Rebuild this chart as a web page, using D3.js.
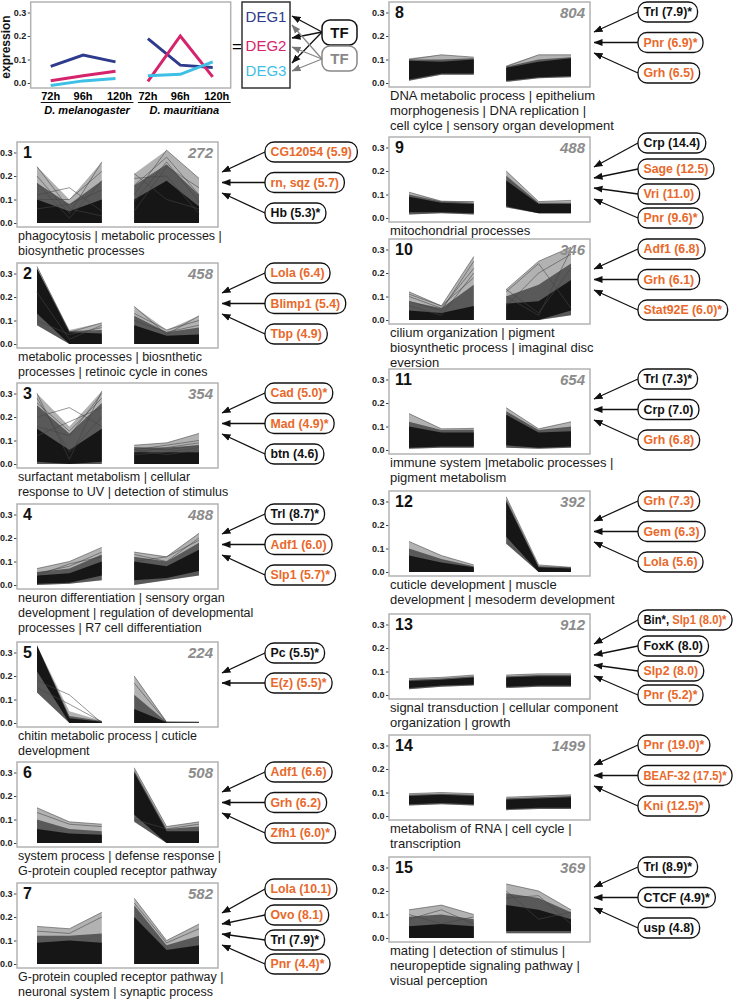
<!DOCTYPE html>
<html>
<head>
<meta charset="utf-8">
<script src="https://cdn.jsdelivr.net/npm/d3@7"></script>
<style>
  body { margin: 0; background: #fff; }
  svg { display: block; font-family: "Liberation Sans", Arial, sans-serif; }
</style>
</head>
<body>
<div id="chart"></div>
<script>
// ---- data ----
const timepoints = ["72h", "96h", "120h"];
const species = ["D. melanogaster", "D. mauritiana"];
const sampleKeys = ["mel72", "mel96", "mel120", "mau72", "mau96", "mau120"];

const degNames = ["DEG1", "DEG2", "DEG3"];
const degValues = [
  [0.071, 0.119, 0.090, 0.189, 0.076, 0.066],
  [0.010, 0.031, 0.050, 0.007, 0.200, 0.026],
  [-0.011, 0.009, 0.019, 0.031, 0.037, 0.090]
];

const clusterIds = [1, 2, 3, 4, 5, 6, 7, 8, 9, 10, 11, 12, 13, 14, 15];
const clusterSizes = [272, 458, 354, 488, 224, 508, 582, 804, 488, 346, 654, 392, 912, 1499, 369];
const clusterTerms = [
  ["phagocytosis | metabolic processes |", "biosynthetic processes"],
  ["metabolic processes | biosnthetic", "processes | retinoic cycle in cones"],
  ["surfactant metabolism | cellular", "response to UV | detection of stimulus"],
  ["neuron differentiation | sensory organ", "development | regulation of developmental", "processes | R7 cell differentiation"],
  ["chitin metabolic process | cuticle", "development"],
  ["system process | defense response |", "G-protein coupled receptor pathway"],
  ["G-protein coupled receptor pathway |", "neuronal system | synaptic process"],
  ["DNA metabolic process | epithelium", "morphogenesis | DNA replication |", "cell cylce | sensory organ development"],
  ["mitochondrial processes"],
  ["cilium organization | pigment", "biosynthetic process | imaginal disc", "eversion"],
  ["immune system |metabolic processes |", "pigment metabolism"],
  ["cuticle development | muscle", "development | mesoderm development"],
  ["signal transduction | cellular component", "organization | growth"],
  ["metabolism of RNA | cell cycle |", "transcription"],
  ["mating | detection of stimulus |", "neuropeptide signaling pathway |", "visual perception"]
];
// each TF label: list of [text, highlighted]
const clusterTFs = [
  [[["CG12054 (5.9)", 1]], [["rn, sqz (5.7)", 1]], [["Hb (5.3)*", 0]]],
  [[["Lola (6.4)", 1]], [["Blimp1 (5.4)", 1]], [["Tbp (4.9)", 1]]],
  [[["Cad (5.0)*", 1]], [["Mad (4.9)*", 1]], [["btn (4.6)", 0]]],
  [[["Trl (8.7)*", 0]], [["Adf1 (6.0)", 1]], [["Slp1 (5.7)*", 1]]],
  [[["Pc (5.5)*", 0]], [["E(z) (5.5)*", 1]]],
  [[["Adf1 (6.6)", 1]], [["Grh (6.2)", 1]], [["Zfh1 (6.0)*", 1]]],
  [[["Lola (10.1)", 1]], [["Ovo (8.1)", 1]], [["Trl (7.9)*", 0]], [["Pnr (4.4)*", 1]]],
  [[["Trl (7.9)*", 0]], [["Pnr (6.9)*", 1]], [["Grh (6.5)", 1]]],
  [[["Crp (14.4)", 0]], [["Sage (12.5)", 1]], [["Vri (11.0)", 1]], [["Pnr (9.6)*", 1]]],
  [[["Adf1 (6.8)", 1]], [["Grh (6.1)", 1]], [["Stat92E (6.0)*", 1]]],
  [[["Trl (7.3)*", 0]], [["Crp (7.0)", 0]], [["Grh (6.8)", 1]]],
  [[["Grh (7.3)", 1]], [["Gem (6.3)", 1]], [["Lola (5.6)", 1]]],
  [[["Bin*, ", 0], ["Slp1 (8.0)*", 1]], [["FoxK (8.0)", 0]], [["Slp2 (8.0)", 1]], [["Pnr (5.2)*", 1]]],
  [[["Pnr (19.0)*", 1]], [["BEAF-32 (17.5)*", 1]], [["Kni (12.5)*", 1]]],
  [[["Trl (8.9)*", 0]], [["CTCF (4.9)*", 0]], [["usp (4.8)", 0]]]
];

// expression envelopes of each cluster (mel72..mel120, mau72..mau120)
const profileLow = [
  [0, 0, 0, 0, 0, 0],
  [0.08, 0, 0, 0, 0, 0],
  [0, 0, 0, 0, 0, 0],
  [0, 0.005, 0.02, 0, 0.02, 0.04],
  [0.13, 0, 0, 0, 0, 0],
  [0, 0, 0, 0.09, 0, 0],
  [0, 0, 0, 0, 0, 0],
  [0.01, 0.035, 0.035, 0.005, 0.02, 0.025],
  [0.015, 0.02, 0.015, 0.045, 0.02, 0.02],
  [0, 0, 0, 0, 0, 0.02],
  [0.005, 0.01, 0.01, 0.01, 0.005, 0.01],
  [0, 0, 0, 0.12, 0, 0],
  [0.025, 0.035, 0.04, 0.03, 0.035, 0.035],
  [0.045, 0.05, 0.045, 0.025, 0.03, 0.03],
  [0, 0, 0, 0.02, 0.02, 0.02]
];
const profileCoreLow = [
  [0, 0, 0, 0, 0, 0],
  [0.13, 0, 0, 0, 0, 0],
  [0.01, 0, 0.01, 0, 0, 0],
  [0.005, 0.01, 0.04, 0.02, 0.03, 0.06],
  [0.22, 0, 0, 0, 0, 0],
  [0, 0, 0, 0.12, 0, 0],
  [0, 0, 0, 0, 0, 0],
  [0.015, 0.04, 0.04, 0.01, 0.025, 0.03],
  [0.025, 0.025, 0.02, 0.05, 0.02, 0.02],
  [0, 0, 0, 0, 0, 0.04],
  [0.01, 0.015, 0.015, 0.02, 0.01, 0.015],
  [0, 0, 0, 0.15, 0, 0],
  [0.03, 0.04, 0.045, 0.035, 0.04, 0.04],
  [0.05, 0.055, 0.05, 0.03, 0.035, 0.035],
  [0, 0, 0, 0.03, 0.03, 0.03]
];
const profileCoreHigh = [
  [0.10, 0.05, 0.10, 0.10, 0.18, 0.07],
  [0.32, 0.05, 0.045, 0.08, 0.035, 0.04],
  [0.15, 0.06, 0.15, 0.05, 0.05, 0.05],
  [0.04, 0.05, 0.10, 0.10, 0.08, 0.15],
  [0.33, 0.02, 0.005, 0.06, 0.003, 0.003],
  [0.06, 0.04, 0.035, 0.30, 0.05, 0.05],
  [0.09, 0.10, 0.09, 0.20, 0.06, 0.08],
  [0.095, 0.09, 0.10, 0.065, 0.09, 0.105],
  [0.09, 0.065, 0.06, 0.16, 0.06, 0.06],
  [0.04, 0.03, 0.06, 0.07, 0.08, 0.17],
  [0.10, 0.075, 0.075, 0.15, 0.075, 0.08],
  [0.07, 0.04, 0.02, 0.30, 0.02, 0.015],
  [0.06, 0.065, 0.075, 0.075, 0.08, 0.08],
  [0.085, 0.09, 0.085, 0.07, 0.075, 0.08],
  [0.05, 0.06, 0.05, 0.14, 0.12, 0.08]
];
const profileMidHigh = [
  [0.17, 0.08, 0.18, 0.16, 0.25, 0.12],
  [0.32, 0.055, 0.06, 0.12, 0.05, 0.07],
  [0.25, 0.13, 0.26, 0.07, 0.07, 0.08],
  [0.055, 0.07, 0.13, 0.12, 0.10, 0.18],
  [0.33, 0.03, 0.008, 0.12, 0.004, 0.004],
  [0.10, 0.06, 0.05, 0.31, 0.06, 0.07],
  [0.12, 0.12, 0.13, 0.25, 0.08, 0.12],
  [0.10, 0.10, 0.105, 0.07, 0.10, 0.11],
  [0.10, 0.07, 0.065, 0.18, 0.065, 0.065],
  [0.08, 0.05, 0.15, 0.10, 0.15, 0.24],
  [0.12, 0.085, 0.085, 0.165, 0.085, 0.10],
  [0.10, 0.055, 0.025, 0.31, 0.025, 0.02],
  [0.065, 0.07, 0.08, 0.08, 0.085, 0.085],
  [0.09, 0.095, 0.09, 0.075, 0.08, 0.085],
  [0.09, 0.10, 0.08, 0.19, 0.17, 0.11]
];
const profileHigh = [
  [0.24, 0.10, 0.26, 0.21, 0.31, 0.19],
  [0.33, 0.06, 0.09, 0.16, 0.06, 0.12],
  [0.30, 0.16, 0.31, 0.08, 0.09, 0.13],
  [0.07, 0.10, 0.16, 0.14, 0.12, 0.22],
  [0.33, 0.05, 0.01, 0.20, 0.006, 0.006],
  [0.15, 0.09, 0.08, 0.32, 0.07, 0.09],
  [0.16, 0.15, 0.22, 0.28, 0.10, 0.17],
  [0.105, 0.12, 0.11, 0.075, 0.12, 0.12],
  [0.11, 0.075, 0.07, 0.20, 0.07, 0.075],
  [0.12, 0.06, 0.27, 0.13, 0.25, 0.31],
  [0.155, 0.09, 0.095, 0.18, 0.09, 0.12],
  [0.13, 0.07, 0.03, 0.32, 0.03, 0.02],
  [0.07, 0.075, 0.085, 0.085, 0.09, 0.09],
  [0.095, 0.10, 0.095, 0.08, 0.085, 0.09],
  [0.12, 0.14, 0.10, 0.23, 0.20, 0.12]
];
// individual gene profiles that stand out of each bundle
const profileLines = [
  [[0.24, 0.06, 0.03, 0.21, 0.10, 0.06], [0.12, 0.15, 0.05, 0.12, 0.31, 0.19], [0.20, 0.04, 0.26, 0.16, 0.28, 0.12],
   [0.10, 0.10, 0.22, 0.05, 0.24, 0.15], [0.17, 0.02, 0.18, 0.19, 0.20, 0.04], [0.06, 0.08, 0.14, 0.09, 0.26, 0.09]],
  [[0.33, 0.05, 0.09, 0.16, 0.04, 0.12], [0.10, 0.04, 0.07, 0.13, 0.06, 0.10], [0.22, 0.02, 0.08, 0.10, 0.05, 0.08]],
  [[0.30, 0.02, 0.31, 0.08, 0.09, 0.13], [0.20, 0.24, 0.16, 0.06, 0.08, 0.10], [0.26, 0.14, 0.28, 0.07, 0.06, 0.08],
   [0.12, 0.18, 0.24, 0.05, 0.07, 0.09], [0.28, 0.05, 0.20, 0.04, 0.05, 0.07], [0.16, 0.12, 0.30, 0.06, 0.04, 0.06]],
  [[0.07, 0.10, 0.16, 0.14, 0.12, 0.22], [0.05, 0.08, 0.14, 0.13, 0.10, 0.20], [0.04, 0.09, 0.12, 0.10, 0.12, 0.19]],
  [[0.18, 0.12, 0.0, 0.20, 0.004, 0.003], [0.15, 0.08, 0.005, 0.17, 0.003, 0.002]],
  [[0.15, 0.09, 0.08, 0.32, 0.07, 0.09], [0.13, 0.08, 0.07, 0.10, 0.06, 0.08]],
  [[0.16, 0.15, 0.22, 0.28, 0.10, 0.17], [0.14, 0.13, 0.20, 0.26, 0.09, 0.15]],
  [[0.10, 0.12, 0.11, 0.07, 0.12, 0.12]],
  [[0.11, 0.07, 0.07, 0.20, 0.07, 0.075]],
  [[0.12, 0.06, 0.27, 0.13, 0.25, 0.31], [0.10, 0.05, 0.22, 0.12, 0.24, 0.05], [0.08, 0.04, 0.25, 0.10, 0.02, 0.30],
   [0.11, 0.06, 0.18, 0.06, 0.20, 0.28], [0.06, 0.02, 0.20, 0.13, 0.03, 0.22]],
  [[0.155, 0.09, 0.09, 0.18, 0.09, 0.12]],
  [[0.13, 0.07, 0.03, 0.32, 0.03, 0.02]],
  [[0.07, 0.075, 0.085, 0.085, 0.09, 0.09]],
  [[0.095, 0.10, 0.095, 0.08, 0.085, 0.09]],
  [[0.12, 0.14, 0.10, 0.23, 0.20, 0.12], [0.10, 0.06, 0.09, 0.20, 0.08, 0.11], [0.08, 0.12, 0.06, 0.17, 0.18, 0.06]]
];

// ---- layout ----
const width = 736;
const height = 999;
const boxW = 201;
const boxH = 85;
const colX = [17, 389];
const colTops = [[142, 263, 383, 504, 642, 762, 883], [2, 137, 239, 369, 491, 614, 735, 857]];
const labelX = [265, 638];
const labelMaxRight = 732;
const termSize = [12.5, 13];
const orange = "#e8692b";
const degColors = ["#2e3b8c", "#d6246c", "#3dbfe6"];
// label / arrow-target offsets from panel top, by number of TFs
const labelRows = {
  2: { label: [11, 41], target: [31, 41] },
  3: { label: [10, 40.5, 71], target: [30, 40.5, 51] },
  4: { label: [6, 32, 57, 81], target: [30, 41, 51, 62] }
};

const svg = d3.select("#chart").append("svg")
  .attr("width", width)
  .attr("height", height)
  .attr("viewBox", [0, 0, width, height]);

const defs = svg.append("defs");
function addMarker(id, color) {
  defs.append("marker")
    .attr("id", id)
    .attr("viewBox", "0 -4 9 8")
    .attr("refX", 8.5)
    .attr("refY", 0)
    .attr("markerUnits", "userSpaceOnUse")
    .attr("markerWidth", 9)
    .attr("markerHeight", 8)
    .attr("orient", "auto")
    .append("path")
    .attr("d", "M0,-3.5L9,0L0,3.5Z")
    .attr("fill", color);
}
addMarker("arrBlack", "#111");
addMarker("arrGray", "#777");

function makeScales(left, top) {
  const x = d3.scalePoint().domain(sampleKeys).range([left + 20, left + 182]);
  const y = d3.scaleLinear().domain([0, 0.3]).range([top + 81, top + 10.5]);
  return { x, y };
}

function drawYAxis(y, left) {
  svg.append("g")
    .attr("transform", `translate(${left},0)`)
    .call(d3.axisLeft(y).tickValues([0, 0.1, 0.2, 0.3]).tickFormat(d3.format(".1f")).tickSize(3).tickPadding(1.5))
    .call((g) => g.select(".domain").remove())
    .call((g) => g.selectAll("line").attr("stroke", "#444"))
    .call((g) => g.selectAll("text").attr("font-size", 9).attr("font-weight", "bold").attr("fill", "#222")
      .attr("font-family", "'Liberation Sans', Arial, sans-serif"));
}

// ---- legend panel at top left ----
{
  const left = 30.7, top = 2;
  const { x, y } = makeScales(left, top);
  drawYAxis(y, left);
  svg.append("rect").attr("x", left).attr("y", top).attr("width", 200).attr("height", 86)
    .attr("fill", "none").attr("stroke", "#b3b3b3").attr("stroke-width", 1.5);
  svg.append("text")
    .attr("transform", `translate(10,${top + 45}) rotate(-90)`)
    .attr("text-anchor", "middle")
    .attr("font-size", 12).attr("font-weight", "bold").attr("fill", "#111")
    .text("expression");
  const line = d3.line().x((d) => x(d.k)).y((d) => y(d.v));
  degValues.forEach((vals, j) => {
    [0, 1].forEach((b) => {
      const pts = [0, 1, 2].map((i) => ({ k: sampleKeys[3 * b + i], v: vals[3 * b + i] }));
      svg.append("path").datum(pts).attr("d", line)
        .attr("fill", "none").attr("stroke", degColors[j]).attr("stroke-width", 3);
    });
  });
  sampleKeys.forEach((k, i) => {
    svg.append("text").attr("x", x(k) + (i % 3 === 2 ? 4 : 0)).attr("y", 99.5)
      .attr("text-anchor", "middle").attr("font-size", 11).attr("font-weight", "bold")
      .text(timepoints[i % 3]);
  });
  [0, 1].forEach((b) => {
    const x0 = x(sampleKeys[3 * b]) - 10, x1 = x(sampleKeys[3 * b + 2]) + 18;
    svg.append("line").attr("x1", x0).attr("x2", x1).attr("y1", 102.5).attr("y2", 102.5)
      .attr("stroke", "#111").attr("stroke-width", 1);
    svg.append("text").attr("x", (x0 + x1) / 2).attr("y", 114)
      .attr("text-anchor", "middle").attr("font-size", 11).attr("font-weight", "bold")
      .attr("font-style", "italic").text(species[b]);
  });

  svg.append("text").attr("x", 237).attr("y", 52).attr("text-anchor", "middle")
    .attr("font-size", 17).text("=");
  svg.append("rect").attr("x", 242).attr("y", 2).attr("width", 48).attr("height", 86)
    .attr("fill", "none").attr("stroke", "#333").attr("stroke-width", 1.5);
  const degY = [16, 45, 70];
  degNames.forEach((n, j) => {
    svg.append("text").attr("x", 266).attr("y", degY[j] + 5.5).attr("text-anchor", "middle")
      .attr("font-size", 15).attr("fill", degColors[j]).text(n);
  });
  const tfBoxes = [{ y: 20, c: "#111", m: "arrBlack", from: 32, to: [16, 38, 63] },
                   { y: 46, c: "#888", m: "arrGray", from: 59, to: [25, 47, 71] }];
  tfBoxes.forEach((t) => {
    t.to.forEach((ty) => {
      svg.append("line").attr("x1", 322).attr("y1", t.from).attr("x2", 292).attr("y2", ty)
        .attr("stroke", t.c).attr("stroke-width", 1.3).attr("marker-end", `url(#${t.m})`);
    });
  });
  tfBoxes.forEach((t) => {
    svg.append("rect").attr("x", 322).attr("y", t.y).attr("width", 35).attr("height", 25).attr("rx", 8)
      .attr("fill", "#fff").attr("stroke", t.c).attr("stroke-width", 1.5);
    svg.append("text").attr("x", 339.5).attr("y", t.y + 17.5).attr("text-anchor", "middle")
      .attr("font-size", 15).attr("font-weight", "bold").attr("fill", t.c).text("TF");
  });
}

// ---- cluster panels ----
clusterIds.forEach((id, ci) => {
  const col = ci < 7 ? 0 : 1;
  const row = ci < 7 ? ci : ci - 7;
  const left = colX[col];
  const top = colTops[col][row];
  const { x, y } = makeScales(left, top);
  drawYAxis(y, left);

  const g = svg.append("g");
  const area = d3.area().x((d) => x(d.k)).y0((d) => y(d.lo)).y1((d) => y(d.hi));
  const line = d3.line().x((d) => x(d.k)).y((d) => y(d.v));
  [0, 1].forEach((b) => {
    const idx = [3 * b, 3 * b + 1, 3 * b + 2];
    const band = (lo, hi) => idx.map((i) => ({ k: sampleKeys[i], lo: lo[i], hi: hi[i] }));
    g.append("path").datum(band(profileLow[ci], profileHigh[ci])).attr("d", area)
      .attr("fill", "#000").attr("fill-opacity", 0.3);
    g.append("path").datum(band(profileLow[ci], profileMidHigh[ci])).attr("d", area)
      .attr("fill", "#000").attr("fill-opacity", 0.5);
    g.append("path").datum(band(profileCoreLow[ci], profileCoreHigh[ci])).attr("d", area)
      .attr("fill", "#111").attr("fill-opacity", 0.93);
    profileLines[ci].forEach((p) => {
      g.append("path").datum(idx.map((i) => ({ k: sampleKeys[i], v: p[i] }))).attr("d", line)
        .attr("fill", "none").attr("stroke", "#444").attr("stroke-opacity", 0.7).attr("stroke-width", 0.8);
    });
  });

  svg.append("rect").attr("x", left).attr("y", top).attr("width", boxW).attr("height", boxH)
    .attr("fill", "none").attr("stroke", "#b3b3b3").attr("stroke-width", 1.5);
  svg.append("text").attr("x", left + 6).attr("y", top + 16)
    .attr("font-size", 16).attr("font-weight", "bold").attr("fill", "#111").text(id);
  svg.append("text").attr("x", left + boxW - 5).attr("y", top + 16).attr("text-anchor", "end")
    .attr("font-size", 15).attr("font-weight", "bold").attr("font-style", "italic").attr("fill", "#8c8c8c")
    .text(clusterSizes[ci]);

  clusterTerms[ci].forEach((t, li) => {
    svg.append("text").attr("x", left + 1).attr("y", top + boxH + 12.5 + li * 15)
      .attr("font-size", termSize[col]).attr("fill", "#1a1a1a").text(t);
  });

  const tfs = clusterTFs[ci];
  const rows = labelRows[tfs.length];
  tfs.forEach((segs, ti) => {
    const ly = top + rows.label[ti];
    const ty = top + rows.target[ti];
    svg.append("line").attr("x1", labelX[col]).attr("y1", ly).attr("x2", left + boxW + 4).attr("y2", ty)
      .attr("stroke", "#111").attr("stroke-width", 1.3).attr("marker-end", "url(#arrBlack)");
    const lg = svg.append("g");
    const rect = lg.append("rect");
    const txt = lg.append("text").attr("x", labelX[col] + 5.5).attr("y", ly + 4.3)
      .attr("font-size", 12.3).attr("font-weight", "bold");
    segs.forEach(([s, hl]) => {
      txt.append("tspan").attr("fill", hl ? orange : "#111").text(s);
    });
    let w = txt.node().getComputedTextLength();
    const maxW = labelMaxRight - labelX[col] - 11;
    if (w > maxW) {
      // squeeze labels that would run off the page
      txt.attr("textLength", maxW).attr("lengthAdjust", "spacingAndGlyphs");
      w = maxW;
    }
    rect.attr("x", labelX[col]).attr("y", ly - 10).attr("width", w + 11).attr("height", 20).attr("rx", 9)
      .attr("fill", "#fff").attr("stroke", "#111").attr("stroke-width", 1.3);
  });
});
</script>
</body>
</html>
